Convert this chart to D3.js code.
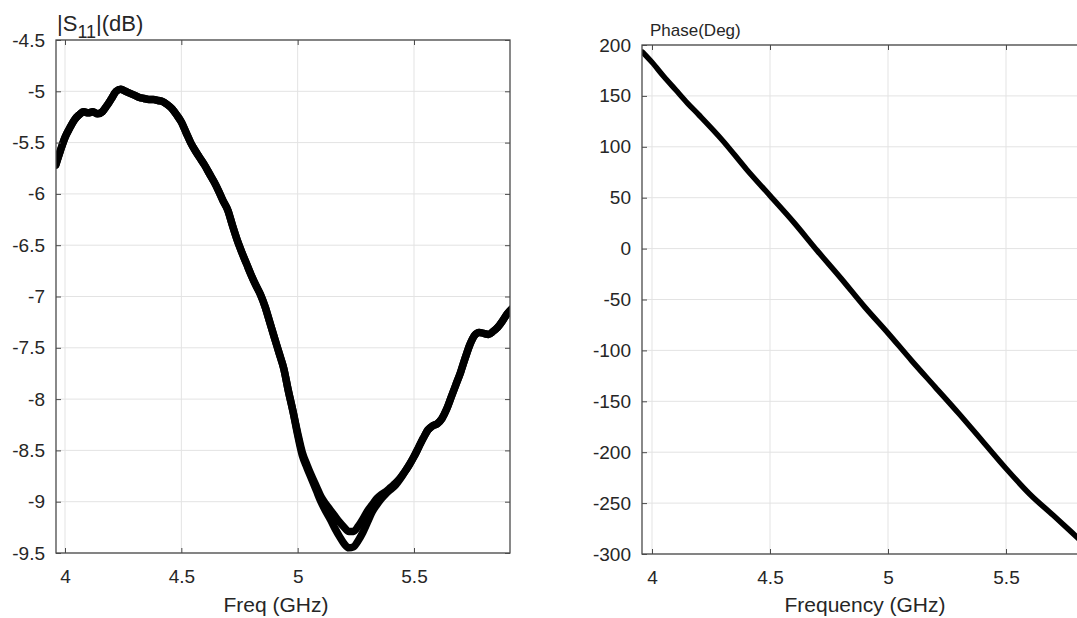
<!DOCTYPE html>
<html><head><meta charset="utf-8">
<script src="https://cdn.jsdelivr.net/npm/d3@7"></script>
<style>body{margin:0;background:#fff;} svg{display:block;font-family:"Liberation Sans",Arial,Helvetica,sans-serif;}</style>
</head><body>
<svg id="chart" width="1077" height="618"></svg>
<script>
// ---- Data ----
const freqS11 = [3.96,3.98,4.00,4.02,4.04,4.06,4.08,4.10,4.12,4.14,4.16,4.18,4.20,4.22,4.24,4.26,4.28,4.30,4.32,4.34,4.36,4.38,4.40,4.42,4.44,4.46,4.48,4.50,4.52,4.54,4.56,4.58,4.60,4.62,4.64,4.66,4.68,4.70,4.72,4.74,4.76,4.78,4.80,4.82,4.84,4.86,4.88,4.90,4.92,4.94,4.96,4.98,5.00,5.02,5.04,5.06,5.08,5.10,5.12,5.14,5.16,5.18,5.20,5.22,5.24,5.26,5.28,5.30,5.32,5.34,5.36,5.38,5.40,5.42,5.44,5.46,5.48,5.50,5.52,5.54,5.56,5.58,5.60,5.62,5.64,5.66,5.68,5.70,5.72,5.74,5.76,5.78,5.80,5.82,5.84,5.86,5.88,5.90,5.92];
const s11TraceA = [-5.72,-5.58,-5.45,-5.36,-5.28,-5.23,-5.20,-5.21,-5.20,-5.22,-5.20,-5.14,-5.07,-5.00,-4.98,-5.00,-5.02,-5.04,-5.06,-5.07,-5.08,-5.08,-5.09,-5.10,-5.13,-5.17,-5.23,-5.30,-5.40,-5.50,-5.58,-5.65,-5.72,-5.80,-5.88,-5.97,-6.07,-6.16,-6.31,-6.45,-6.57,-6.68,-6.79,-6.89,-6.98,-7.10,-7.25,-7.40,-7.55,-7.70,-7.92,-8.12,-8.33,-8.52,-8.64,-8.75,-8.85,-8.95,-9.02,-9.08,-9.14,-9.20,-9.25,-9.29,-9.29,-9.24,-9.17,-9.09,-9.03,-8.97,-8.93,-8.90,-8.86,-8.82,-8.77,-8.71,-8.64,-8.56,-8.47,-8.38,-8.30,-8.26,-8.24,-8.19,-8.10,-7.98,-7.86,-7.74,-7.60,-7.47,-7.38,-7.35,-7.36,-7.37,-7.34,-7.30,-7.24,-7.17,-7.12];
const s11TraceB = [-5.72,-5.58,-5.45,-5.36,-5.28,-5.23,-5.20,-5.21,-5.20,-5.22,-5.20,-5.14,-5.07,-5.00,-4.98,-5.00,-5.02,-5.04,-5.06,-5.07,-5.08,-5.08,-5.09,-5.10,-5.13,-5.17,-5.23,-5.30,-5.40,-5.50,-5.58,-5.65,-5.72,-5.80,-5.88,-5.97,-6.07,-6.16,-6.31,-6.45,-6.57,-6.68,-6.79,-6.89,-6.98,-7.10,-7.25,-7.40,-7.55,-7.70,-7.92,-8.12,-8.35,-8.55,-8.67,-8.78,-8.89,-9.00,-9.09,-9.17,-9.26,-9.34,-9.41,-9.45,-9.44,-9.38,-9.30,-9.20,-9.10,-9.03,-8.97,-8.92,-8.88,-8.84,-8.78,-8.71,-8.64,-8.56,-8.47,-8.38,-8.30,-8.26,-8.24,-8.19,-8.10,-7.98,-7.86,-7.74,-7.60,-7.47,-7.38,-7.35,-7.36,-7.37,-7.34,-7.30,-7.24,-7.17,-7.12];

const freqPhase = [3.96,4.00,4.05,4.10,4.15,4.20,4.30,4.40,4.50,4.60,4.70,4.80,4.90,5.00,5.10,5.20,5.30,5.40,5.50,5.60,5.70,5.78,5.85];
const phaseDeg  = [193,183,169,156,143,131,106,78,52,26,-2,-29,-57,-83,-110,-136,-162,-189,-216,-241,-262,-279,-294];

const xTicks = [4,4.5,5,5.5];
const s11Ticks = [-9.5,-9,-8.5,-8,-7.5,-7,-6.5,-6,-5.5,-5,-4.5];
const phaseTicks = [-300,-250,-200,-150,-100,-50,0,50,100,150,200];

const svg = d3.select("#chart");
svg.append("rect").attr("width",1077).attr("height",618).attr("fill","#fff");

const fmt = d => String(d);   // plain hyphen minus, like the original

function panel(o){
  const g = svg.append("g");
  const x = d3.scaleLinear().domain(o.xDomain).range([o.left,o.right]);
  const y = d3.scaleLinear().domain(o.yDomain).range([o.bottom,o.top]);
  const clipId = "clip"+o.id;
  svg.append("clipPath").attr("id",clipId).append("rect")
     .attr("x",o.left).attr("y",o.top).attr("width",o.right-o.left).attr("height",o.bottom-o.top);
  // grid
  g.selectAll(".gx").data(o.xTicks).join("line")
    .attr("x1",d=>x(d)).attr("x2",d=>x(d)).attr("y1",o.top).attr("y2",o.bottom)
    .attr("stroke","#e3e3e3").attr("stroke-width",1);
  g.selectAll(".gy").data(o.yTicks).join("line")
    .attr("y1",d=>y(d)).attr("y2",d=>y(d)).attr("x1",o.left).attr("x2",o.right)
    .attr("stroke","#e3e3e3").attr("stroke-width",1);
  // curves
  const line = d3.line().x(d=>x(d[0])).y(d=>y(d[1])).curve(d3.curveMonotoneX);
  o.series.forEach(s=>{
    g.append("path").datum(s.x.map((f,i)=>[f,s.y[i]]))
      .attr("d",line).attr("fill","none").attr("stroke","#000")
      .attr("stroke-width",o.lw).attr("stroke-linejoin","round").attr("stroke-linecap","round")
      .attr("clip-path",`url(#${clipId})`);
  });
  // axes (box, inside ticks)
  const axCol = "#4a4a4a";
  const bottom = d3.axisBottom(x).tickValues(o.xTicks).tickSize(-5).tickPadding(17).tickFormat(fmt);
  const top = d3.axisTop(x).tickValues(o.xTicks).tickSize(-5).tickFormat("");
  const left = d3.axisLeft(y).tickValues(o.yTicks).tickSize(-5).tickPadding(11).tickFormat(fmt);
  const right = d3.axisRight(y).tickValues(o.yTicks).tickSize(-5).tickFormat("");
  const styleAx = sel => { sel.selectAll("line").attr("stroke",axCol);
    sel.selectAll("text").attr("fill","#262626").style("font-size","19px").style("font-family",'"Liberation Sans",Arial,sans-serif'); };
  g.append("g").attr("transform",`translate(0,${o.bottom})`).call(bottom).call(styleAx);
  g.append("g").attr("transform",`translate(0,${o.top})`).call(top).call(styleAx);
  g.append("g").attr("transform",`translate(${o.left},0)`).call(left).call(styleAx);
  g.append("g").attr("transform",`translate(${o.right},0)`).call(right).call(styleAx);
  g.selectAll(".domain").remove();
  g.append("rect").attr("x",o.left).attr("y",o.top).attr("width",o.right-o.left).attr("height",o.bottom-o.top)
    .attr("fill","none").attr("stroke",axCol).attr("stroke-width",1.3);
  // x label
  g.append("text").attr("x",o.labelX).attr("y",612)
    .attr("text-anchor","middle").attr("fill","#262626").style("font-size","21px").text(o.xLabel);
  return {g,x,y};
}

panel({id:1,left:56,right:510,top:40,bottom:553,
  xDomain:[3.9613,5.9126], yDomain:[-9.5,-4.5], xTicks:xTicks, yTicks:s11Ticks, lw:7.5,
  series:[{x:freqS11,y:s11TraceA},{x:freqS11,y:s11TraceB}], xLabel:"Freq (GHz)", labelX:276});
// title left
const t1 = svg.append("text").attr("x",57).attr("y",31).attr("fill","#262626").style("font-size","22px");
t1.append("tspan").text("|S");
t1.append("tspan").attr("dy",7).style("font-size","18px").text("11");
t1.append("tspan").attr("dy",-7).text("|(dB)");

panel({id:2,left:642,right:1105,top:45,bottom:554,
  xDomain:[3.9576,5.9195], yDomain:[-300,200], xTicks:xTicks, yTicks:phaseTicks, lw:5.5,
  series:[{x:freqPhase,y:phaseDeg}], xLabel:"Frequency (GHz)", labelX:865});
svg.append("text").attr("x",650).attr("y",36).attr("fill","#262626").style("font-size","17px").text("Phase(Deg)");
</script>
</body></html>
